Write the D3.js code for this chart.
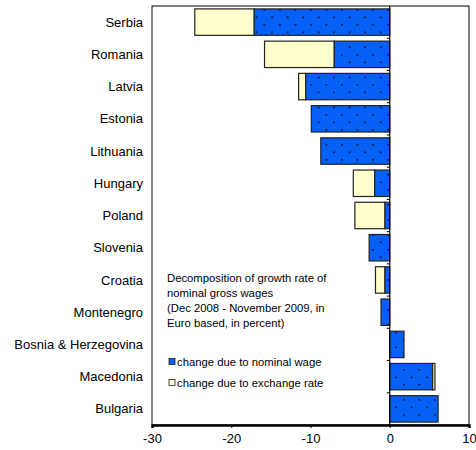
<!DOCTYPE html>
<html><head><meta charset="utf-8">
<script src="https://cdn.jsdelivr.net/npm/d3@7/dist/d3.min.js"></script>
<style>body{margin:0;background:#fff;} text{font-family:"Liberation Sans",Arial,sans-serif;fill:#000;}</style>
</head><body><svg id="c" width="476" height="450"></svg>
<script>
const categories = ["Serbia","Romania","Latvia","Estonia","Lithuania","Hungary","Poland","Slovenia","Croatia","Montenegro","Bosnia & Herzegovina","Macedonia","Bulgaria"];
const nominalWage = [-17.1,-7.0,-10.6,-9.9,-8.7,-1.9,-0.6,-2.6,-0.6,-1.1,1.8,5.4,6.1];
const exchangeRate = [-7.5,-8.8,-0.9,0,0,-2.7,-3.8,0,-1.2,0,0,0.3,0];
const xTicks = [-30,-20,-10,0,10];
const seriesNames = ["change due to nominal wage","change due to exchange rate"];
const titleLines = ["Decomposition of growth rate of","nominal gross wages","(Dec 2008 - November 2009, in","Euro based, in percent)"];

const svg = d3.select("#c");
const L=152,R=469,T=6,B=425;
const x = d3.scaleLinear().domain([-30,10]).range([L,R]);
const y = d3.scaleBand().domain(categories).range([T,B]).paddingInner(0.18).paddingOuter(0.09);
const BLUE="#0560F8", YEL="#FFFFCC";

const defs = svg.append("defs");
const pat = defs.append("pattern").attr("id","dots").attr("patternUnits","userSpaceOnUse")
  .attr("width",15.5).attr("height",15).attr("x",L).attr("y",T);
pat.append("rect").attr("width",15.5).attr("height",15).attr("fill",BLUE);
pat.append("rect").attr("x",3).attr("y",3).attr("width",1.7).attr("height",1.7).attr("fill","#0a1535");
pat.append("rect").attr("x",10.75).attr("y",10.5).attr("width",1.7).attr("height",1.7).attr("fill","#0a1535");

// frame
svg.append("rect").attr("x",L).attr("y",T).attr("width",R-L).attr("height",B-T)
  .attr("fill","none").attr("stroke","#000").attr("stroke-width",1);

const rows = categories.map((c,i)=>({c,n:nominalWage[i],e:exchangeRate[i]}));
svg.append("g").selectAll("rect").data(rows.filter(d=>d.e!==0)).join("rect")
  .attr("x",d=>Math.min(x(d.n),x(d.n+d.e)))
  .attr("width",d=>Math.abs(x(d.n+d.e)-x(d.n)))
  .attr("y",d=>y(d.c)).attr("height",y.bandwidth())
  .attr("fill",YEL).attr("stroke","#222").attr("stroke-width",1.2);
svg.append("g").selectAll("rect").data(rows).join("rect")
  .attr("x",d=>Math.min(x(0),x(d.n)))
  .attr("width",d=>Math.abs(x(d.n)-x(0)))
  .attr("y",d=>y(d.c)).attr("height",y.bandwidth())
  .attr("fill","url(#dots)").attr("stroke","#222").attr("stroke-width",1.2);

// zero axis with category ticks
svg.append("line").attr("x1",x(0)).attr("x2",x(0)).attr("y1",T).attr("y2",B).attr("stroke","#000").attr("stroke-width",1.2);
const step=y.step();
svg.append("g").selectAll("line").data(d3.range(1,categories.length)).join("line")
  .attr("x1",x(0)-3).attr("x2",x(0)).attr("y1",i=>y(categories[i])-(step-y.bandwidth())/2).attr("y2",i=>y(categories[i])-(step-y.bandwidth())/2)
  .attr("stroke","#000");

// category labels
svg.append("g").selectAll("text").data(categories).join("text")
  .attr("x",143).attr("y",d=>y(d)+y.bandwidth()/2).attr("dy","0.35em")
  .attr("text-anchor","end").attr("font-size",13).text(d=>d);

// x axis
const ax = svg.append("g").attr("transform",`translate(0,${B})`)
  .call(d3.axisBottom(x).tickValues(xTicks).tickSize(3).tickPadding(6).tickFormat(d=>String(d)));
ax.select(".domain").attr("stroke-width",2.5);
ax.selectAll("text").attr("font-size",13).attr("font-family","Liberation Sans, Arial, sans-serif");

// title/legend text
svg.append("g").selectAll("text").data(titleLines).join("text")
  .attr("x",167).attr("y",(d,i)=>282+i*15).attr("font-size",11.3).text(d=>d);
const lg = svg.append("g");
[BLUE,YEL].forEach((col,i)=>{
  const yy = 362+i*21;
  lg.append("rect").attr("x",169).attr("y",yy-3.5).attr("width",6).attr("height",6).attr("fill",col).attr("stroke","#222").attr("stroke-width",0.8);
  lg.append("text").attr("x",177).attr("y",yy).attr("dy","0.35em").attr("font-size",11.3).text(seriesNames[i]);
});
</script></body></html>
